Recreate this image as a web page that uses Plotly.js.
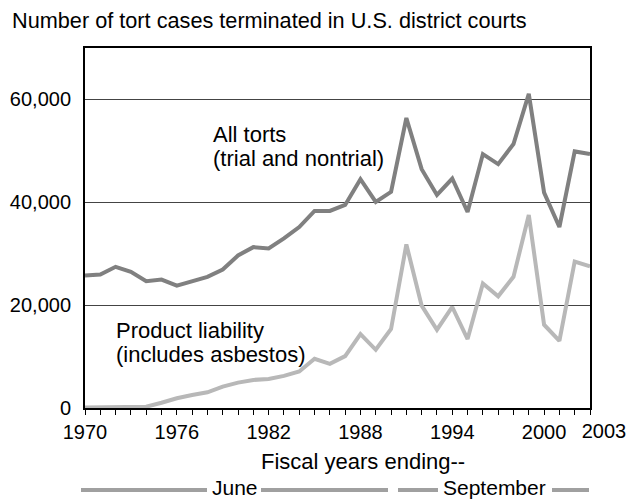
<!DOCTYPE html>
<html>
<head>
<meta charset="utf-8">
<script src="https://cdn.plot.ly/plotly-3.0.1.min.js"></script>
<style>html,body{margin:0;padding:0;background:#fff;}#chart{width:633px;height:500px;}</style>
</head>
<body>
<div id="chart"></div>
<script>
const years = [1970,1971,1972,1973,1974,1975,1976,1977,1978,1979,1980,1981,1982,1983,1984,1985,1986,1987,1988,1989,1990,1991,1992,1993,1994,1995,1996,1997,1998,1999,2000,2001,2002,2003];
const allTorts = [25750,25950,27450,26480,24650,24970,23800,24650,25500,26930,29660,31280,31020,32970,35190,38310,38310,39480,44490,40070,42020,56390,46440,41430,44620,38110,49370,47420,51320,61070,41890,35190,49890,49370];
const productLiability = [100,100,100,150,250,1030,1890,2540,3060,4160,4940,5460,5660,6240,7090,9560,8590,10080,14380,11320,15350,31800,19900,15220,19640,13400,24200,21720,25500,37520,16190,13070,28490,27560];
const xTickVals = [1970,1976,1982,1988,1994,2000,2003];
const xTickText = ['1970','1976','1982','1988','1994','2000',''];
const xEndTickVals = [2003];
const xEndTickText = ['2003'];
const yTickVals = [0,20000,40000,60000];
const yTickText = ['0','20,000','40,000','60,000'];

const FONT = 'Liberation Sans, Arial, Helvetica, sans-serif';
const L = 85, R = 590, T = 48, B = 408;
const px2x = p => (p - L) / (R - L);
const px2y = p => (B - p) / (B - T);
const TXT = 22;

const traces = [
  {x: years, y: allTorts, type: 'scatter', mode: 'lines', line: {color: '#808080', width: 4}, hoverinfo: 'skip'},
  {x: years, y: productLiability, type: 'scatter', mode: 'lines', line: {color: '#b8b8b8', width: 4}, hoverinfo: 'skip'},
  {x: xEndTickVals, y: [null], xaxis: 'x2', type: 'scatter', mode: 'lines', hoverinfo: 'skip', showlegend: false}
];

const legColor = '#a0a0a0';
const legY = px2y(490);
const shapes = [
  {type:'line', xref:'paper', yref:'paper', x0:px2x(81), x1:px2x(207), y0:legY, y1:legY, line:{color:legColor, width:4}},
  {type:'line', xref:'paper', yref:'paper', x0:px2x(261), x1:px2x(388), y0:legY, y1:legY, line:{color:legColor, width:4}},
  {type:'line', xref:'paper', yref:'paper', x0:px2x(398), x1:px2x(438), y0:legY, y1:legY, line:{color:legColor, width:4}},
  {type:'line', xref:'paper', yref:'paper', x0:px2x(552), x1:px2x(589), y0:legY, y1:legY, line:{color:legColor, width:4}}
];

function txt(text, xpx, ypx, anchor, size) {
  return {text: text, xref:'paper', yref:'paper', x:px2x(xpx), y:px2y(ypx), xanchor:anchor, yanchor:'middle', align:anchor === 'center' ? 'center' : 'left', showarrow:false, font:{family:FONT, size:size || TXT, color:'#000'}};
}

const annotations = [
  txt('All torts', 211, 134, 'left'),
  txt('(trial and nontrial)', 211, 158, 'left'),
  txt('Product liability', 114, 330, 'left'),
  txt('(includes asbestos)', 114, 354, 'left'),
  txt('Fiscal years ending--', 363, 462, 'center'),
  txt('June', 234.5, 487, 'center', 21),
  txt('September', 494.5, 487, 'center', 21)
];

const layout = {
  width: 633, height: 500,
  margin: {l: L, r: 633 - R, t: T, b: 500 - B, pad: 0},
  paper_bgcolor: '#fff', plot_bgcolor: '#fff',
  showlegend: false,
  font: {family: FONT, size: 20, color: '#000'},
  title: {text: 'Number of tort cases terminated in U.S. district courts', x: 12/633, xref: 'container', xanchor: 'left', y: 1 - 20/500, yref: 'container', yanchor: 'middle', font: {family: FONT, size: 21.7, color: '#000'}},
  xaxis: {
    range: [1970, 2003], tickmode: 'array', tickvals: xTickVals, ticktext: xTickText, tickangle: 0,
    ticks: 'outside', ticklen: 5, tickwidth: 1, tickcolor: '#000',
    minor: {dtick: 1, tick0: 1970, ticks: 'outside', ticklen: 5, tickwidth: 1, tickcolor: '#000', showgrid: false},
    showgrid: false, zeroline: false, showline: true, linecolor: '#000', linewidth: 2, mirror: true,
    tickfont: {family: FONT, size: 20, color: '#000'}, fixedrange: true
  },
  xaxis2: {
    overlaying: 'x', side: 'bottom', range: [1970, 2003], tickmode: 'array', tickvals: xEndTickVals, ticktext: xEndTickText, tickangle: 0,
    ticks: '', ticklabelshift: 14, ticklabelstandoff: 9, showgrid: false, zeroline: false, showline: false,
    tickfont: {family: FONT, size: 20, color: '#000'}, fixedrange: true
  },
  yaxis: {
    range: [0, 70000], tickmode: 'array', tickvals: yTickVals, ticktext: yTickText,
    ticks: '', ticklabelstandoff: 8,
    showgrid: true, gridcolor: '#444', gridwidth: 1, zeroline: false,
    showline: true, linecolor: '#000', linewidth: 2, mirror: true,
    tickfont: {family: FONT, size: 20, color: '#000'}, fixedrange: true
  },
  shapes: shapes,
  annotations: annotations
};

Plotly.newPlot('chart', traces, layout, {displayModeBar: false, staticPlot: true});
</script>
</body>
</html>
